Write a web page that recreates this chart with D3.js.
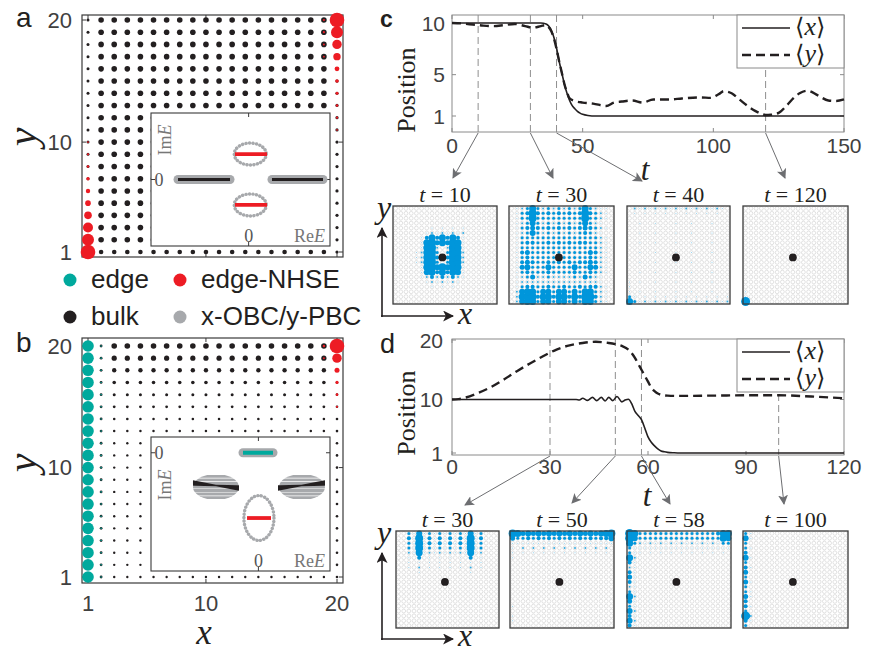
<!DOCTYPE html>
<html><head><meta charset="utf-8">
<script src="https://cdn.jsdelivr.net/npm/d3@7"></script>
<style>body{margin:0;background:#fff}svg{display:block}</style>
</head><body>
<svg id="fig" width="879" height="653"></svg>
<script>
// ================= data =================
const sites = d3.range(1, 21);           // lattice sites 1..20 in x and y

// panel a (x-OBC / y-OBC densities)
const bulkRowRadiusA = [2.3, 2.8, 2.8, 2.8, 2.8, 2.8, 2.8, 2.8, 2.8, 2.8, 2.8, 2.8, 2.8, 2.8, 2.8, 2.8, 2.8, 2.8, 2.8, 2.8]; // y = 1..20
const sideColsA = [1, 20];
const sideRadiusA = [1.5, 1.6];
const nhseLeftA  = [7.3, 6.0, 5.0, 3.8, 2.8, 2.2, 1.7, 1.3, 1.1, 0.9];   // x = 1, y = 1..10
const nhseRightA = [7.3, 6.0, 4.7, 3.7, 2.4, 1.8, 1.5, 1.3, 1.1, 0.9];   // x = 20, y = 20..11

// panel b
const bulkRowRadiusB = [1.2, 1.2, 1.2, 1.2, 1.2, 1.2, 1.2, 1.2, 1.2, 1.2, 1.2, 1.2, 1.25, 1.3, 1.4, 1.5, 1.8, 2.2, 2.6, 2.8]; // y = 1..20
const sideColsB = [2, 20];
const sideRadiusB = [1.4, 1.3];
const edgeLeftB  = [5.8, 5.8, 5.8, 5.8, 5.8, 5.8, 5.8, 5.8, 5.8, 5.8, 5.8, 5.8, 5.8, 5.8, 5.8, 5.8, 5.8, 5.8, 5.8, 5.8]; // x = 1, y = 1..20
const nhseRightB = [7.3, 4.7, 2.5, 1.6, 1.3, 1.1];                       // x = 20, y = 20..15

// inset spectra (ReE, ImE)
const bulkBandsA = [[-0.868, -0.229], [0.287, 0.914]];                  // on ImE = 0
const nhseBandsA = [{ im: 0.383, re: [-0.168, 0.226] }, { im: -0.383, re: [-0.168, 0.226] }];
const pbcLoopsA  = [{ re: 0.02, im: 0.383, rx: 0.197, ry: 0.165 }, { re: 0.02, im: -0.383, rx: 0.197, ry: 0.165 }];

const edgeBandB  = { im: 0, re: [-0.172, 0.163] };
const bulkLobesB = [{ re: -0.474, im: -0.434, rx: 0.257, ry: 0.165 }, { re: 0.487, im: -0.434, rx: 0.257, ry: 0.165 }];
const lobeStripesB = [-0.135, -0.09, -0.045, 0, 0.045, 0.09, 0.135];
const bulkArcsB  = [{ from: [-0.731, -0.384], to: [-0.217, -0.447] }, { from: [0.219, -0.447], to: [0.744, -0.384] }];
const nhseBandB  = { im: -0.828, re: [-0.127, 0.141] };
const pbcLoopB   = { re: 0.006, im: -0.828, rx: 0.168, ry: 0.285 };

// panel c: mean position vs time
const tCx = [0, 34, 36, 37, 38, 39, 40, 41, 42, 43, 44, 45, 46, 47, 48, 49, 50, 52, 55, 150];
const xC  = [10, 10, 9.9, 9.7, 9.3, 8.6, 7.6, 6.3, 5.2, 4.1, 3.2, 2.5, 2.0, 1.7, 1.45, 1.28, 1.16, 1.05, 1.0, 1.0];
const tCy = [0, 4, 8, 12, 16, 20, 24, 28, 31, 34, 36, 37, 38, 39, 40, 41, 42, 43, 44, 45, 47, 50, 54, 59, 62, 65, 69, 73, 77, 83, 88, 95, 99, 102, 104, 107, 110, 113, 116, 118, 120, 122, 125, 128, 131, 133, 136, 140, 144, 147, 150];
const yC  = [10, 9.95, 9.85, 9.75, 9.7, 9.8, 9.9, 9.7, 9.55, 9.7, 9.8, 9.6, 9.2, 8.5, 7.5, 6.3, 5.2, 4.1, 3.3, 2.7, 2.45, 2.3, 2.2, 1.97, 2.3, 2.4, 2.5, 2.3, 2.6, 2.6, 2.7, 2.8, 2.75, 3.1, 3.4, 3.2, 2.6, 2.0, 1.5, 1.25, 1.1, 1.12, 1.3, 2.0, 2.8, 3.2, 3.45, 3.0, 2.5, 2.45, 2.6];
const snapTimesC = [10, 30, 40, 120];

// panel d
const tDx = [0, 38, 39, 40, 41.5, 43, 44.3, 45.7, 46.9, 48, 49.2, 50.5, 52, 53, 54, 55, 56, 57, 58, 59, 60, 61, 62, 63, 64, 65, 66, 68, 70, 120];
const xD  = [10, 10, 9.9, 10.2, 9.85, 10.35, 9.8, 10.35, 9.75, 10.35, 9.8, 10.5, 9.6, 9.9, 10.05, 9.3, 8.0, 7.3, 6.6, 5.2, 3.7, 2.8, 2.2, 1.7, 1.35, 1.2, 1.1, 1.03, 1.0, 1.0];
const tDy = [0, 2, 4, 8, 12, 16, 20, 24, 28, 32, 36, 40, 44, 48, 50, 52, 54, 55, 56, 57, 58, 59, 60, 61, 62, 63, 64, 66, 70, 80, 90, 100, 110, 120];
const yD  = [10, 10.05, 10.3, 11.1, 12.1, 13.4, 14.8, 16.1, 17.3, 18.4, 19.1, 19.5, 19.7, 19.5, 19.3, 19.0, 18.4, 17.8, 17.0, 16.0, 15.0, 14.0, 13.0, 12.0, 11.4, 11.0, 10.8, 10.65, 10.6, 10.65, 10.7, 10.7, 10.5, 10.2];
const snapTimesD = [30, 50, 58, 100];

// wave-packet snapshots: rows y = 20 (first) .. 1 (last), columns x = 1..20, weight level 0-9
const snapC10 = [
  "0", "0", "0", "0",
  "00000001010101",
  "00000012121212",
  "00000147474741",
  "00000178575871",
  "00000178202871",
  "00001278303872",
  "00001278404872",
  "00001278303872",
  "00000178686871",
  "00000167474761",
  "00000124242421",
  "00000012121210",
  "00000001010100",
  "0", "0", "0"];
const snapC30 = [
  "01237323232323732110",
  "01348434343434843210",
  "01338333333333833210",
  "01236323232323632100",
  "01345434343434543210",
  "01236323232323432100",
  "01333333333333333210",
  "01344334343434433210",
  "01333333333333333210",
  "01453333333333354210",
  "01343333303333343210",
  "01454334343434454210",
  "01563336333363365210",
  "01343334333343343210",
  "01235223222232532100",
  "01222222222222222100",
  "01344334334334344210",
  "02677366366363773210",
  "02788477477474884210",
  "02677366366363773210"];
const snapC40 = [
  "02121212121212121210",
  "01010101010101010100",
  "0",
  "00100100010010001000",
  "0",
  "00100100010010001000",
  "0",
  "00100100010010001000",
  "0",
  "00100100010010001000",
  "0",
  "00100100010010001000",
  "0",
  "00100100010010001000",
  "0",
  "10100100010010001000",
  "1",
  "10100100010010001000",
  "31010101010101010101",
  "73121212121212121212"];
const snapC120 = [
  "0", "0", "0", "0", "0", "0", "0", "0", "0", "0",
  "0", "0", "0", "0", "0", "0", "0", "1", "1", "9"];
const snapD30 = [
  "0031613131313161300",
  "0041814141414181400",
  "0031814141414181300",
  "0031813131313181300",
  "0021712121212171200",
  "0010401010101040100",
  "0010101010101010100",
  "0010201010101020100",
  "0000100000000010000",
  "0", "0", "0", "0", "0", "0", "0", "0", "0", "0", "0"];
const snapD50 = [
  "87565656565656565678",
  "53343434343434343446",
  "11111111111111111111",
  "10202020202020202020",
  "10101010101010101010",
  "1", "0", "0", "0", "0", "0", "0", "0", "0", "0",
  "1", "0", "1", "1", "0"];
const snapD58 = [
  "97333333333333333477",
  "96333333333333333376",
  "73212121212121212133",
  "31111111111111111111",
  "31101010101010101010",
  "72", "41", "21", "41", "51", "41", "21", "31", "72", "51",
  "31", "62", "41", "62", "41"];
const snapD100 = [
  "31", "61", "3", "31", "4", "61", "3", "41", "5", "3",
  "51", "3", "31", "51", "4", "41", "3", "92", "41", "3"];

// ================= drawing =================
const svg = d3.select('#fig');
const C = { black: '#231f20', red: '#ed1c24', teal: '#00a99d', gray: '#a7a9ac', blue: '#0096db',
            frame: '#3a3a3a', axis: '#8a8a8a', arrow: '#6d6e71', tick: '#404040' };
const SANS = 'Arial, "Liberation Sans", Helvetica, sans-serif';
const SERIF = '"Liberation Serif", "Times New Roman", "DejaVu Serif", serif';

const defs = svg.append('defs');
function marker(id, color, size) {
  defs.append('marker').attr('id', id).attr('viewBox', '0 0 10 10')
    .attr('refX', 9).attr('refY', 5).attr('markerUnits', 'userSpaceOnUse')
    .attr('markerWidth', size).attr('markerHeight', size).attr('orient', 'auto')
    .append('path').attr('d', 'M0,0 L10,5 L0,10 L2.5,5 Z').attr('fill', color);
}
marker('ahGray', C.arrow, 10);
marker('ahBlack', C.black, 11);

// ---------- lattice density panels (a, b) ----------
function latticePanel(o) {
  const g = svg.append('g');
  const x = d3.scaleLinear().domain([1, 20]).range([88, 337]);
  const y = d3.scaleLinear().domain([1, 20]).range([o.yBottom, o.yTop]);
  const fx0 = 82, fx1 = 343, fy0 = o.frameTop, fy1 = o.frameBottom;

  g.append('rect').attr('x', fx0).attr('y', fy0).attr('width', fx1 - fx0).attr('height', fy1 - fy0)
    .attr('fill', '#fff').attr('stroke', C.frame).attr('stroke-width', 1.2);
  [1, 10, 20].forEach(v => {
    g.append('line').attr('x1', x(v)).attr('x2', x(v)).attr('y1', fy1).attr('y2', fy1 - 4).attr('stroke', C.frame);
    g.append('line').attr('x1', x(v)).attr('x2', x(v)).attr('y1', fy0).attr('y2', fy0 + 4).attr('stroke', C.frame);
    g.append('line').attr('y1', y(v)).attr('y2', y(v)).attr('x1', fx0).attr('x2', fx0 + 4).attr('stroke', C.frame);
    g.append('line').attr('y1', y(v)).attr('y2', y(v)).attr('x1', fx1).attr('x2', fx1 - 4).attr('stroke', C.frame);
    g.append('text').attr('x', 72).attr('y', y(v)).attr('dy', '0.36em').attr('text-anchor', 'end')
      .attr('font-family', SANS).attr('font-size', 22).attr('fill', C.tick).text(v);
  });

  const cells = [];
  sites.forEach(yy => sites.forEach(xx => {
    const si = o.sideCols.indexOf(xx);
    cells.push({ xx, yy, r: si >= 0 ? o.sideRadius[si] : o.bulkRowRadius[yy - 1] });
  }));
  g.selectAll('circle.bulk').data(cells).join('circle')
    .attr('cx', d => x(d.xx)).attr('cy', d => y(d.yy)).attr('r', d => d.r).attr('fill', C.black);

  o.overlays.forEach(ov => {
    g.append('g').selectAll('circle').data(ov.radii).join('circle')
      .attr('cx', x(ov.col)).attr('cy', (d, i) => y(ov.startRow + i * ov.step)).attr('r', d => d)
      .attr('fill', ov.color);
  });
  return { g, x, y };
}

const pa = latticePanel({
  yTop: 20, yBottom: 252, frameTop: 15, frameBottom: 257,
  bulkRowRadius: bulkRowRadiusA, sideCols: sideColsA, sideRadius: sideRadiusA,
  overlays: [
    { col: 1, startRow: 1, step: 1, radii: nhseLeftA, color: C.red },
    { col: 20, startRow: 20, step: -1, radii: nhseRightA, color: C.red },
    { col: 19, startRow: 20, step: -1, radii: [1.1, 1.1, 1.0, 0.9], color: C.red }
  ]
});
const pb = latticePanel({
  yTop: 346, yBottom: 577, frameTop: 338, frameBottom: 583,
  bulkRowRadius: bulkRowRadiusB, sideCols: sideColsB, sideRadius: sideRadiusB,
  overlays: [
    { col: 1, startRow: 1, step: 1, radii: edgeLeftB, color: C.teal },
    { col: 2, startRow: 1, step: 1, radii: edgeLeftB.map(() => 0.8), color: C.teal },
    { col: 20, startRow: 20, step: -1, radii: nhseRightB, color: C.red },
    { col: 19, startRow: 20, step: -1, radii: [1.2, 1.0], color: C.red }
  ]
});
// x tick labels of b
[1, 10, 20].forEach(v => {
  svg.append('text').attr('x', pb.x(v)).attr('y', 611).attr('text-anchor', 'middle')
    .attr('font-family', SANS).attr('font-size', 22).attr('fill', C.tick).text(v);
});
function mathLabel(x, y, s, size, rotate) {
  const t = svg.append('text').attr('font-family', SERIF).attr('font-style', 'italic')
    .attr('font-size', size).attr('fill', C.black).attr('text-anchor', 'middle').text(s);
  t.attr('transform', `translate(${x},${y})` + (rotate ? ' rotate(-90)' : ''));
  return t;
}
mathLabel(36, 137, 'y', 42, true);
mathLabel(36, 463, 'y', 42, true);
mathLabel(204, 644, 'x', 35, false);

// ---------- spectrum insets ----------
function inset(o) {
  const g = svg.append('g');
  const x = d3.scaleLinear().domain(o.re).range([o.x0, o.x1]);
  const y = d3.scaleLinear().domain(o.im).range([o.y1, o.y0]);
  g.append('rect').attr('x', o.x0).attr('y', o.y0).attr('width', o.x1 - o.x0).attr('height', o.y1 - o.y0)
    .attr('fill', '#fff').attr('stroke', C.frame).attr('stroke-width', 1.1);
  g.append('line').attr('x1', x(0)).attr('x2', x(0)).attr('y1', o.y0).attr('y2', o.y0 + 4).attr('stroke', C.frame);
  g.append('line').attr('x1', x(0)).attr('x2', x(0)).attr('y1', o.y1).attr('y2', o.y1 - 4).attr('stroke', C.frame);
  g.append('line').attr('y1', y(0)).attr('y2', y(0)).attr('x1', o.x0).attr('x2', o.x0 + 4).attr('stroke', C.frame);
  g.append('line').attr('y1', y(0)).attr('y2', y(0)).attr('x1', o.x1).attr('x2', o.x1 - 4).attr('stroke', C.frame);
  g.append('text').attr('x', o.x0 + 8).attr('y', y(0)).attr('dy', '0.35em').attr('text-anchor', 'middle')
    .attr('font-family', SERIF).attr('font-size', 18).attr('fill', '#555').text('0');
  g.append('text').attr('x', x(0)).attr('y', o.y1 - 4).attr('text-anchor', 'middle')
    .attr('font-family', SERIF).attr('font-size', 18).attr('fill', '#555').text('0');
  const re = g.append('text').attr('x', o.x1 - 5).attr('y', o.y1 - 4).attr('text-anchor', 'end')
    .attr('font-family', SERIF).attr('font-size', 18).attr('fill', '#777');
  re.append('tspan').text('Re');
  re.append('tspan').attr('font-style', 'italic').text('E');
  const im = g.append('text').attr('transform', `translate(${o.x0 + 20},${o.imLabelY}) rotate(-90)`)
    .attr('text-anchor', 'middle').attr('font-family', SERIF).attr('font-size', 18).attr('fill', '#777');
  im.append('tspan').text('Im');
  im.append('tspan').attr('font-style', 'italic').text('E');
  return { g, x, y };
}
function bar(g, x, y, re, im, color, width, halo) {
  if (halo) g.append('line').attr('x1', x(re[0])).attr('x2', x(re[1])).attr('y1', y(im)).attr('y2', y(im))
    .attr('stroke', C.gray).attr('stroke-width', 9).attr('stroke-linecap', 'round');
  g.append('line').attr('x1', x(re[0])).attr('x2', x(re[1])).attr('y1', y(im)).attr('y2', y(im))
    .attr('stroke', color).attr('stroke-width', width);
}
function dottedLoop(g, x, y, l) {
  g.append('ellipse').attr('cx', x(l.re)).attr('cy', y(l.im))
    .attr('rx', Math.abs(x(l.re + l.rx) - x(l.re))).attr('ry', Math.abs(y(l.im + l.ry) - y(l.im)))
    .attr('fill', 'none').attr('stroke', C.gray).attr('stroke-width', 3.4)
    .attr('stroke-linecap', 'round').attr('stroke-dasharray', '0.1 3.4');
}

const ia = inset({ x0: 151, x1: 330, y0: 113, y1: 246, re: [-1.2, 1.0], im: [-1, 1], imLabelY: 140 });
bulkBandsA.forEach(b => bar(ia.g, ia.x, ia.y, b, 0, C.black, 3.2, true));
pbcLoopsA.forEach(l => dottedLoop(ia.g, ia.x, ia.y, l));
nhseBandsA.forEach(b => bar(ia.g, ia.x, ia.y, b.re, b.im, C.red, 3.8, false));

const ib = inset({ x0: 151, x1: 330, y0: 437, y1: 571, re: [-1.2, 0.8], im: [-1.5, 0.2], imLabelY: 485 });
bar(ib.g, ib.x, ib.y, edgeBandB.re, edgeBandB.im, C.teal, 4, true);
bulkLobesB.forEach((l, k) => {
  const id = 'lobe' + k;
  defs.append('clipPath').attr('id', id).append('ellipse')
    .attr('cx', ib.x(l.re)).attr('cy', ib.y(l.im))
    .attr('rx', ib.x(l.re + l.rx) - ib.x(l.re)).attr('ry', ib.y(l.im) - ib.y(l.im + l.ry));
  ib.g.append('g').attr('clip-path', `url(#${id})`).selectAll('line').data(lobeStripesB).join('line')
    .attr('x1', ib.x(l.re - l.rx)).attr('x2', ib.x(l.re + l.rx))
    .attr('y1', d => ib.y(l.im + d)).attr('y2', d => ib.y(l.im + d))
    .attr('stroke', C.gray).attr('stroke-width', 2.9);
});
bulkArcsB.forEach(a => {
  const x1 = ib.x(a.from[0]), y1 = ib.y(a.from[1]), x2 = ib.x(a.to[0]), y2 = ib.y(a.to[1]);
  const xm = (x1 + x2) / 2, ym = (y1 + y2) / 2;
  ib.g.append('path').attr('fill', C.black)
    .attr('d', `M${x1},${y1 - 2.8} L${xm},${ym - 0.7} L${x2},${y2 - 2.8} L${x2},${y2 + 2.8} L${xm},${ym + 0.7} L${x1},${y1 + 2.8} Z`);
});
dottedLoop(ib.g, ib.x, ib.y, pbcLoopB);
bar(ib.g, ib.x, ib.y, nhseBandB.re, nhseBandB.im, C.red, 3.8, false);

// ---------- legend between a and b ----------
const legendItems = [
  { label: 'edge', color: C.teal, x: 70, y: 280 },
  { label: 'edge-NHSE', color: C.red, x: 180, y: 280 },
  { label: 'bulk', color: C.black, x: 70, y: 317 },
  { label: 'x-OBC/y-PBC', color: C.gray, x: 180, y: 317 }
];
legendItems.forEach(d => {
  svg.append('circle').attr('cx', d.x).attr('cy', d.y).attr('r', 6.5).attr('fill', d.color);
  svg.append('text').attr('x', d.x + 21).attr('y', d.y + 8).attr('font-family', SANS)
    .attr('font-size', 26).attr('fill', C.black).text(d.label);
});

// ---------- panel letters ----------
[['a', 16, 27, 28, 'normal'], ['b', 16, 352, 28, 'normal'], ['c', 380, 27, 23, 'bold'], ['d', 380, 353, 27, 'normal']]
  .forEach(([s, x, y, f, w]) => svg.append('text').attr('x', x).attr('y', y).attr('font-family', SANS)
    .attr('font-size', f).attr('font-weight', w).attr('fill', C.black).text(s));

// ---------- time-trace panels (c, d) ----------
function tracePanel(o) {
  const g = svg.append('g');
  const x = d3.scaleLinear().domain(o.tDomain).range([452, 844]);
  const y = d3.scaleLinear().domain(o.yDomain).range(o.yRange);
  const top = o.top, bottom = o.bottom, left = 452, right = 844;
  g.append('rect').attr('x', left).attr('y', top).attr('width', right - left).attr('height', bottom - top)
    .attr('fill', '#fff').attr('stroke', C.axis).attr('stroke-width', 1);
  o.tTicks.forEach(t => {
    g.append('line').attr('x1', x(t)).attr('x2', x(t)).attr('y1', bottom).attr('y2', bottom - 4).attr('stroke', C.axis);
    g.append('line').attr('x1', x(t)).attr('x2', x(t)).attr('y1', top).attr('y2', top + 4).attr('stroke', C.axis);
    g.append('text').attr('x', x(t)).attr('y', bottom + o.tLabelDy).attr('text-anchor', 'middle')
      .attr('font-family', SANS).attr('font-size', 21).attr('fill', C.tick).text(t);
  });
  o.yTicks.forEach(v => {
    g.append('line').attr('y1', y(v)).attr('y2', y(v)).attr('x1', left).attr('x2', left + 4).attr('stroke', C.axis);
    g.append('line').attr('y1', y(v)).attr('y2', y(v)).attr('x1', right).attr('x2', right - 4).attr('stroke', C.axis);
    g.append('text').attr('x', left - o.yLabelGap).attr('y', y(v)).attr('dy', '0.36em').attr('text-anchor', 'end')
      .attr('font-family', SANS).attr('font-size', 21).attr('fill', C.tick).text(v);
  });
  // snapshot times
  o.snaps.forEach(t => g.append('line').attr('x1', x(t)).attr('x2', x(t)).attr('y1', top).attr('y2', bottom)
    .attr('stroke', '#8f8f8f').attr('stroke-width', 1).attr('stroke-dasharray', '7 4'));
  const line = d3.line().curve(d3.curveMonotoneX);
  g.append('path').attr('d', line(o.xt.map((t, i) => [x(t), y(o.xv[i])])))
    .attr('fill', 'none').attr('stroke', C.black).attr('stroke-width', 1.6);
  g.append('path').attr('d', line(o.yt.map((t, i) => [x(t), y(o.yv[i])])))
    .attr('fill', 'none').attr('stroke', C.black).attr('stroke-width', 2.4).attr('stroke-dasharray', '9 5');
  // legend
  const lg = g.append('g');
  lg.append('rect').attr('x', 737).attr('y', top).attr('width', right - 737).attr('height', 53)
    .attr('fill', '#fff').attr('stroke', C.axis);
  [['x', null, 13], ['y', '9 5', 40]].forEach(([s, dash, dy]) => {
    lg.append('line').attr('x1', 742).attr('x2', 790).attr('y1', top + dy).attr('y2', top + dy)
      .attr('stroke', C.black).attr('stroke-width', dash ? 2.4 : 1.6).attr('stroke-dasharray', dash);
    const t = lg.append('text').attr('x', 795).attr('y', top + dy + 7).attr('font-family', SERIF)
      .attr('font-size', 24).attr('fill', C.black);
    t.append('tspan').text('\u27E8');
    t.append('tspan').attr('font-style', 'italic').attr('font-size', 26).text(s);
    t.append('tspan').text('\u27E9');
  });
  // axis labels
  g.append('text').attr('transform', `translate(${415},${o.posY}) rotate(-90)`).attr('text-anchor', 'middle')
    .attr('font-family', SERIF).attr('font-size', 26).attr('fill', C.black).text('Position');
  mathLabel(o.tLabel[0], o.tLabel[1], 't', 31, false);
  // arrows to snapshots
  o.snaps.forEach((t, i) => g.append('line').attr('x1', x(t)).attr('y1', bottom + 1)
    .attr('x2', o.arrowEnds[i][0]).attr('y2', o.arrowEnds[i][1])
    .attr('stroke', C.arrow).attr('stroke-width', 1).attr('marker-end', 'url(#ahGray)'));
}

tracePanel({
  tDomain: [0, 150], yDomain: [1, 10], yRange: [116, 23], top: 15, bottom: 132,
  tTicks: [0, 50, 100, 150], yTicks: [1, 5, 10], tLabelDy: 21, yLabelGap: 7,
  xt: tCx, xv: xC, yt: tCy, yv: yC, snaps: snapTimesC, posY: 90, tLabel: [645, 180],
  arrowEnds: [[453, 178], [553, 178], [642, 181], [785, 178]]
});
tracePanel({
  tDomain: [0, 120], yDomain: [1, 20], yRange: [453, 340], top: 339, bottom: 455,
  tTicks: [0, 30, 60, 90, 120], yTicks: [1, 10, 20], tLabelDy: 19, yLabelGap: 9,
  xt: tDx, xv: xD, yt: tDy, yv: yD, snaps: snapTimesD, posY: 413, tLabel: [647, 506],
  arrowEnds: [[465, 505], [572, 503], [670, 504], [784, 504]]
});

// ---------- snapshots ----------
function snapshot(box, rows, t) {
  const g = svg.append('g');
  const xs = d3.scaleBand().domain(sites).range([box[0], box[1]]);
  const ys = d3.scaleBand().domain(sites).range([box[3], box[2]]);
  const cx = v => xs(v) + xs.bandwidth() / 2, cy = v => ys(v) + ys.bandwidth() / 2;
  g.append('rect').attr('x', box[0]).attr('y', box[2]).attr('width', box[1] - box[0]).attr('height', box[3] - box[2])
    .attr('fill', '#fff');
  const cells = [];
  sites.forEach(yy => sites.forEach(xx => {
    const row = rows[20 - yy].padEnd(20, '0');
    cells.push({ xx, yy, lv: +row[xx - 1] || 0 });
  }));
  g.append('g').selectAll('circle').data(cells).join('circle')
    .attr('cx', d => cx(d.xx)).attr('cy', d => cy(d.yy)).attr('r', 1.9)
    .attr('fill', 'none').attr('stroke', '#cfcfcf').attr('stroke-width', 0.6);
  g.append('g').selectAll('circle').data(cells.filter(d => d.lv > 0)).join('circle')
    .attr('cx', d => cx(d.xx)).attr('cy', d => cy(d.yy)).attr('r', d => d.lv * 0.5)
    .attr('fill', C.blue).attr('fill-opacity', d => d.lv === 1 ? 0.55 : d.lv === 2 ? 0.8 : 1);
  g.append('circle').attr('cx', cx(10)).attr('cy', cy(10)).attr('r', 3.9).attr('fill', C.black);
  g.append('rect').attr('x', box[0]).attr('y', box[2]).attr('width', box[1] - box[0]).attr('height', box[3] - box[2])
    .attr('fill', 'none').attr('stroke', C.frame).attr('stroke-width', 1.3);
  const title = g.append('text').attr('x', (box[0] + box[1]) / 2).attr('y', box[2] - 4)
    .attr('text-anchor', 'middle').attr('font-family', SERIF).attr('font-size', 22).attr('fill', C.black);
  title.append('tspan').attr('font-style', 'italic').text('t');
  title.append('tspan').text(' = ' + t);
}
const boxesC = [[393, 497, 206, 304], [509, 614, 206, 304], [627, 730, 206, 304], [743, 848, 206, 304]];
const boxesD = [[396, 499, 531, 628], [510, 614, 531, 628], [627, 731, 531, 628], [743, 848, 531, 628]];
[snapC10, snapC30, snapC40, snapC120].forEach((r, i) => snapshot(boxesC[i], r, snapTimesC[i]));
[snapD30, snapD50, snapD58, snapD100].forEach((r, i) => snapshot(boxesD[i], r, snapTimesD[i]));

// lattice axes next to the snapshot rows
function latticeAxes(yTop, yCorner, yLabel, xLabelY) {
  svg.append('line').attr('x1', 382).attr('x2', 382).attr('y1', yCorner + 1).attr('y2', yTop)
    .attr('stroke', C.black).attr('stroke-width', 1.6).attr('marker-end', 'url(#ahBlack)');
  svg.append('line').attr('x1', 381).attr('x2', 453).attr('y1', yCorner).attr('y2', yCorner)
    .attr('stroke', C.black).attr('stroke-width', 1.6).attr('marker-end', 'url(#ahBlack)');
  mathLabel(384, yLabel, 'y', 32, false);
  mathLabel(465, xLabelY, 'x', 32, false);
}
latticeAxes(228, 316, 218, 324);
latticeAxes(553, 639, 543, 646);
</script>
</body></html>
